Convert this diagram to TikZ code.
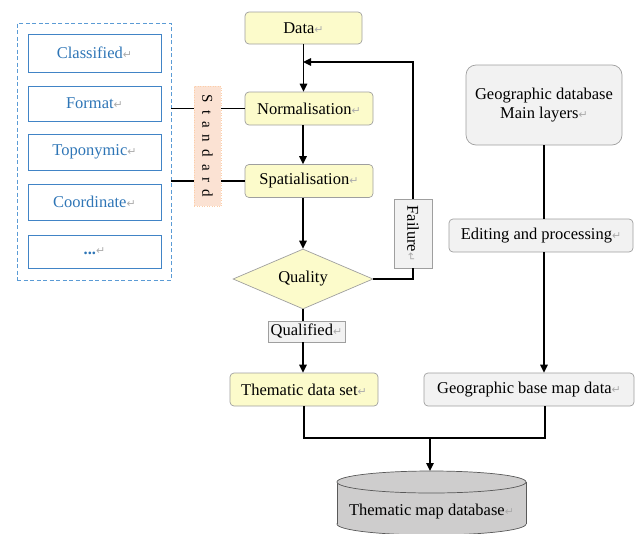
\documentclass[tikz,border=0pt]{standalone}
\usepackage{fontspec}
\usepackage{graphicx}
\setmainfont{Liberation Serif}
\newfontfamily\symf{DejaVu Sans}
\usetikzlibrary{shapes.geometric,arrows.meta}
\definecolor{yelfill}{RGB}{252,251,203}
\definecolor{gryfill}{RGB}{242,242,242}
\definecolor{peach}{RGB}{251,226,211}
\definecolor{bluetx}{RGB}{46,117,182}
\definecolor{bluebd}{RGB}{65,132,198}
\definecolor{dashbd}{RGB}{91,155,213}
\definecolor{dbfill}{RGB}{206,205,205}
\newcommand\retm{{\symf\fontsize{11}{11}\selectfont\color{gray!65}↵}}
\begin{document}
\begin{tikzpicture}[x=1pt,y=-1pt,
  every node/.style={font=\fontsize{16.5}{19}\selectfont, inner sep=0pt},
  yelbox/.style={draw=gray!75, fill=yelfill, rounded corners=4pt, line width=0.7pt},
  grybox/.style={draw=gray!75, fill=gryfill, rounded corners=4pt, line width=0.7pt},
  sqbox/.style={draw=gray!75, fill=gryfill, line width=0.7pt},
  bluebox/.style={draw=bluebd, line width=0.9pt, text=bluetx, minimum width=133pt, minimum height=36pt},
  conn/.style={line width=1.5pt},
  arr/.style={conn, -{Triangle[length=8pt,width=7.5pt]}},
  cyl/.style={draw=gray!70!black, fill=dbfill, line width=0.7pt}]
\useasboundingbox (0,0) rectangle (639,533);
% left group
\node[draw=dashbd, dash pattern=on 4pt off 2.5pt, line width=0.9pt, minimum width=154pt, minimum height=257pt] (grp) at (94,151.5) {};
\node[bluebox, minimum height=38pt] (cls) at (94.5,53) {Classified\retm};
\node[bluebox, minimum height=35pt] (fmt) at (94.5,103.5) {Format\retm};
\node[bluebox] (topo) at (94.5,152) {Toponymic\retm};
\node[bluebox] (crd) at (94.5,202) {Coordinate\retm};
\node[bluebox, minimum height=33pt] (dots) at (94.5,251.5) {\textbf{...}\retm};
\node[fill=peach, draw=peach!80!orange, dotted, line width=0.5pt, minimum width=27pt, minimum height=120pt] (std) at (207.5,146)
  {\rotatebox{-90}{\fontsize{15}{15}\selectfont S\hspace{7pt}t\hspace{7pt}a\hspace{7pt}n\hspace{7pt}d\hspace{7pt}a\hspace{7pt}r\hspace{7pt}d}};
% main flow
\node[yelbox, minimum width=117pt, minimum height=32pt] (data) at (303.5,28) {Data\retm};
\node[yelbox, minimum width=128pt, minimum height=33pt] (norm) at (309,108.5) {Normalisation\retm};
\node[yelbox, minimum width=128pt, minimum height=33pt] (spat) at (309,181) {Spatialisation\retm};
\node[diamond, aspect=2.33, draw=gray!75, fill=yelfill, line width=0.7pt, minimum width=140pt, minimum height=60pt] (q) at (303,279) {Quality};
\node[sqbox, minimum width=77pt, minimum height=21pt] (qual) at (306.5,331.5) {Qualified\retm};
\node[sqbox, minimum width=38pt, minimum height=69pt] (fail) at (413,233.5) {\rotatebox{-90}{Failure\retm}};
\node[yelbox, minimum width=148pt, minimum height=33pt] (them) at (304,389.5) {Thematic data set\retm};
% right column
\node[grybox, rounded corners=10pt, minimum width=156pt, minimum height=80pt, align=center] (gdb) at (544,105) {Geographic database\\Main layers\retm};
\node[grybox, minimum width=184pt, minimum height=33pt] (edit) at (541,235.5) {Editing and processing\retm};
\node[grybox, minimum width=210pt, minimum height=33pt] (geob) at (529,389.5) {Geographic base map data\retm};
% database cylinder
\filldraw[cyl] (431.5,524) ellipse [x radius=94.5, y radius=11];
\fill[dbfill] (337,482) rectangle (526,524);
\draw[cyl] (337,482) -- (337,524) (526,482) -- (526,524);
\filldraw[cyl] (431.5,482) ellipse [x radius=94.5, y radius=11];
\node (db) at (431.5,512) {Thematic map database\retm};
\coordinate (dbtop) at (430,471);
% coordinates
\coordinate (fb) at (303,62);
\coordinate (mrg) at (430,438);
\coordinate (jr) at (545,438);
\coordinate (gb) at (545,406);
% connectors
\draw[arr] (data.south) -- (data.south |- norm.north);
\draw[arr] (q.north |- norm.south) -- (q.north |- spat.north);
\draw[arr] (q.north |- spat.south) -- (q.north);
\draw[conn] (q.east) -| (fail.south);
\draw[arr] (fail.north) |- (fb);
\draw[conn] (q.south) -- (q.south |- qual.north);
\draw[arr] (q.south |- qual.south) -- (q.south |- them.north);
\draw[conn, line width=1.1pt] (grp.east |- norm.west) -- (std.west |- norm.west);
\draw[conn, line width=1.1pt] (std.east |- norm.west) -- (norm.west);
\draw[conn, line width=1.1pt] (grp.east |- spat.west) -- (std.west |- spat.west);
\draw[conn, line width=1.1pt] (std.east |- spat.west) -- (spat.west);
\draw[conn] (gdb.south) -- (gdb.south |- edit.north);
\draw[arr] (gdb.south |- edit.south) -- (gdb.south |- geob.north);
\draw[conn] (them.south) |- (jr) -- (gb);
\draw[arr] (mrg) -- (dbtop);
\end{tikzpicture}
\end{document}
